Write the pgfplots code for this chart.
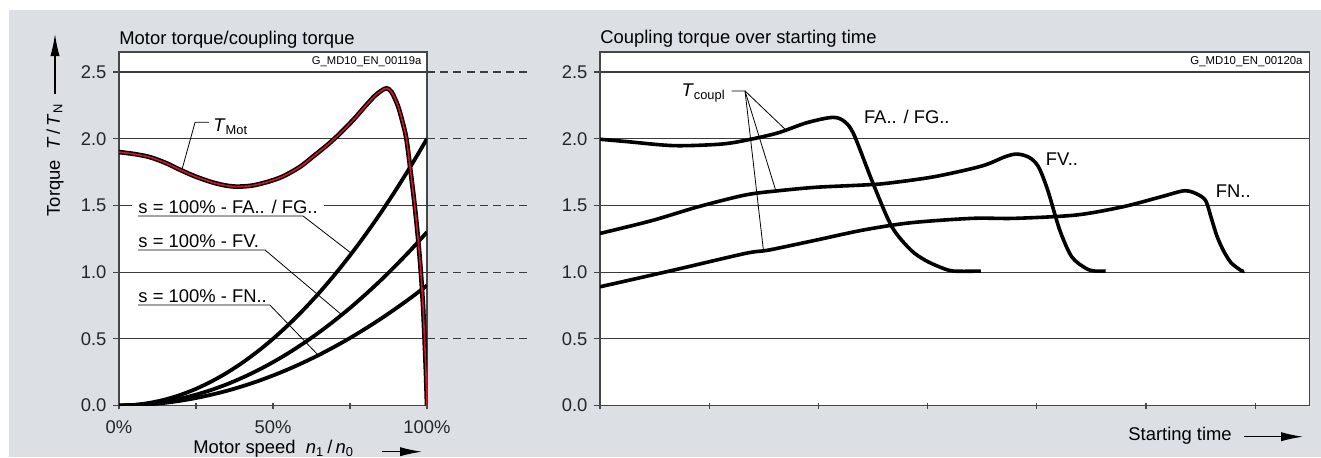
\documentclass[border=0pt]{standalone}
\usepackage{fontspec}
\setmainfont{Liberation Sans}
\usepackage{pgfplots}
\usepackage{pgfplotstable}
\pgfplotsset{compat=1.18}
\usetikzlibrary{arrows.meta}
\definecolor{bggray}{RGB}{220,224,228}
\definecolor{motred}{RGB}{214,18,42}
\definecolor{gridc}{RGB}{60,60,60}
\definecolor{framec}{RGB}{70,70,70}

\pgfplotstableread{
x y
0 1.90
5 1.885
10 1.862
15 1.82
20 1.765
25 1.715
30 1.675
34 1.652
38 1.641
43 1.648
48 1.675
53 1.715
58.8 1.79
64 1.885
68 1.96
72 2.045
76 2.14
80 2.245
83 2.32
85.2 2.36
86.9 2.378
88.5 2.35
90.5 2.25
92.0 2.13
93.3 2.0
94.7 1.75
96.0 1.5
97.1 1.25
98.0 1.0
98.7 0.75
99.2 0.5
99.65 0.25
100 0
}\tmot

\pgfplotsset{
  torqueaxis/.style={
    scale only axis, anchor=south west,
    height=176.75pt, ymin=0, ymax=2.65,
    ytick={0,0.5,1,1.5,2,2.5},
    yticklabels={0.0,0.5,1.0,1.5,2.0,2.5},
    ymajorgrids,
    grid style={gridc, line width=0.6pt},
    axis line style={framec, line width=0.6pt},
    major tick style={framec, line width=0.6pt},
    major tick length=3pt,
    ytick align=outside, xtick align=center,
    tick pos=left,
    tick label style={font=\fontsize{9.2}{11}\selectfont, text=black!85},
    xticklabel style={yshift=-3pt},
    axis background/.style={fill=white},
  }
}

\begin{document}
\fontsize{9.2}{11}\selectfont
\begin{tikzpicture}
\useasboundingbox (0pt,0pt) rectangle (660.5pt,228.5pt);
\fill[white] (0pt,0pt) rectangle (660.5pt,228.5pt);
\fill[bggray] (4.5pt,0pt) rectangle (660.5pt,223.5pt);

% ---------- left: motor torque / coupling torque ----------
\begin{axis}[torqueaxis, at={(59.5pt,25.75pt)}, width=154pt,
  xmin=0, xmax=100, xtick={0,25,50,75,100}, xticklabels={0\%,,50\%,,100\%}]
\addplot[black, line width=1.9pt, smooth] coordinates {
(0,0) (5,0.005) (10,0.02) (15,0.045) (20,0.08) (25,0.125) (30,0.18) (35,0.245)
(40,0.32) (45,0.405) (50,0.5) (55,0.605) (60,0.72) (65,0.845) (70,0.98)
(75,1.125) (80,1.28) (85,1.445) (90,1.62) (95,1.805) (100,2.0)};
\addplot[black, line width=1.9pt, smooth] coordinates {
(0,0) (5,0.0033) (10,0.013) (15,0.0293) (20,0.052) (25,0.0813) (30,0.117) (35,0.159)
(40,0.208) (45,0.263) (50,0.325) (55,0.393) (60,0.468) (65,0.549) (70,0.637)
(75,0.731) (80,0.832) (85,0.939) (90,1.053) (95,1.173) (100,1.3)};
\addplot[black, line width=1.9pt, smooth] coordinates {
(0,0) (5,0.0023) (10,0.009) (15,0.0203) (20,0.036) (25,0.0563) (30,0.081) (35,0.110)
(40,0.144) (45,0.182) (50,0.225) (55,0.272) (60,0.324) (65,0.380) (70,0.441)
(75,0.506) (80,0.576) (85,0.650) (90,0.729) (95,0.812) (100,0.9)};
\addplot[black, line width=2.3pt, smooth] table {\tmot};
\addplot[motred, line width=0.8pt, smooth] table {\tmot};

\node[anchor=west, fill=white, inner xsep=3pt, inner ysep=1pt, xshift=-3pt] at (axis cs:6.2,1.49) {s = 100\% - FA.. / FG..};
\draw[line width=0.4pt] (axis cs:6.2,1.42) -- (axis cs:59.8,1.42) -- (axis cs:75.5,1.14);
\node[anchor=west, inner sep=0pt] at (axis cs:6.2,1.23) {s = 100\% - FV.};
\draw[line width=0.4pt] (axis cs:6.2,1.166) -- (axis cs:47.4,1.166) -- (axis cs:72.3,0.68);
\node[anchor=west, inner sep=0pt] at (axis cs:6.2,0.816) {s = 100\% - FN..};
\draw[line width=0.4pt] (axis cs:6.2,0.753) -- (axis cs:49,0.753) -- (axis cs:64.7,0.377);
\node[anchor=west, inner sep=0pt] at (axis cs:30.5,2.09) {\textit{T}\textsubscript{Mot}};
\draw[line width=0.4pt] (axis cs:29.2,2.123) -- (axis cs:24.7,2.123) -- (axis cs:20.4,1.765);
\node[anchor=east, inner sep=0pt, font=\fontsize{5.6}{6.5}\selectfont] at (axis cs:98.3,2.575) {G\_MD10\_EN\_00119a};
\end{axis}

% ---------- right: coupling torque over starting time ----------
\begin{axis}[torqueaxis, at={(300pt,25.75pt)}, width=354.6pt,
  xmin=0, xmax=6.495, xtick={0,1,2,3,4,5,6}, xticklabels={}]
\addplot[black, line width=1.8pt, smooth, tension=0.5] coordinates {
(0,1.996) (0.25,1.978) (0.68,1.948) (1.115,1.96) (1.375,1.995) (1.635,2.045)
(1.894,2.12) (2.132,2.16) (2.24,2.128) (2.327,2.028) (2.5,1.666) (2.673,1.34)
(2.846,1.166) (2.976,1.09) (3.106,1.04) (3.235,1.008) (3.487,1.008)};
\addplot[black, line width=1.8pt, smooth, tension=0.5] coordinates {
(0,1.29) (0.47,1.385) (0.9,1.49) (1.33,1.578) (1.635,1.61) (1.98,1.636)
(2.414,1.653) (2.63,1.666) (3.06,1.715) (3.495,1.795) (3.71,1.865) (3.82,1.885)
(3.93,1.86) (4.015,1.79) (4.10,1.615) (4.21,1.316) (4.32,1.115) (4.45,1.028)
(4.53,1.008) (4.63,1.008)};
\addplot[black, line width=1.8pt, smooth, tension=0.5] coordinates {
(0,0.89) (0.68,1.016) (1.33,1.14) (1.55,1.166) (1.98,1.24) (2.414,1.316)
(2.846,1.37) (3.41,1.403) (3.80,1.403) (4.36,1.428) (4.79,1.49) (5.14,1.565)
(5.357,1.61) (5.485,1.578) (5.55,1.53) (5.60,1.40) (5.65,1.27) (5.71,1.16)
(5.78,1.07) (5.875,1.01) (5.9,1.008)};

\node[anchor=base east, inner sep=0pt] at (axis cs:1.154,2.315) {\textit{T}\textsubscript{coupl}};
\draw[line width=0.4pt] (axis cs:1.206,2.358) -- (axis cs:1.328,2.358) -- (axis cs:1.703,2.065);
\draw[line width=0.4pt] (axis cs:1.328,2.358) -- (axis cs:1.61,1.61);
\draw[line width=0.4pt] (axis cs:1.328,2.358) -- (axis cs:1.497,1.16);
\node[anchor=west, inner sep=0pt] at (axis cs:2.414,2.165) {FA.. / FG..};
\node[anchor=west, inner sep=0pt] at (axis cs:4.08,1.845) {FV..};
\node[anchor=west, inner sep=0pt] at (axis cs:5.637,1.608) {FN..};
\node[anchor=east, inner sep=0pt, font=\fontsize{5.7}{6.5}\selectfont] at (axis cs:6.438,2.575) {G\_MD10\_EN\_00120a};
\end{axis}

% ---------- decorations ----------
\foreach \yy in {192.5,159.15,125.8,92.45,59.1}
  \draw[gridc, line width=0.6pt, dash pattern=on 4pt off 2.6pt] (213.5pt,\yy pt) -- (266pt,\yy pt);

\node[anchor=base west, inner sep=0pt] at (59.5pt,206.35pt) {Motor torque/coupling torque};
\node[anchor=base west, inner sep=0pt] at (300pt,206.75pt) {Coupling torque over starting time};

\node[rotate=90, inner sep=0pt] at (27.5pt,148.5pt) {Torque\ \ \textit{T}\,/\,\textit{T}\textsubscript{N}};
\draw[line width=0.6pt, -{Latex[length=11pt,width=4.6pt]}] (27.5pt,181.5pt) -- (27.5pt,211.5pt);

\node[anchor=base west, inner sep=0pt] at (96.5pt,1.65pt) {Motor speed\ \ \textit{n}\textsubscript{1}\,/\,\textit{n}\textsubscript{0}};
\draw[line width=0.6pt, -{Latex[length=11pt,width=4.6pt]}] (191pt,2.65pt) -- (211pt,2.65pt);

\node[anchor=base west, inner sep=0pt] at (564pt,8.5pt) {Starting time};
\draw[line width=0.6pt, -{Latex[length=11pt,width=4.6pt]}] (622pt,10.15pt) -- (651.5pt,10.15pt);
\end{tikzpicture}
\end{document}
